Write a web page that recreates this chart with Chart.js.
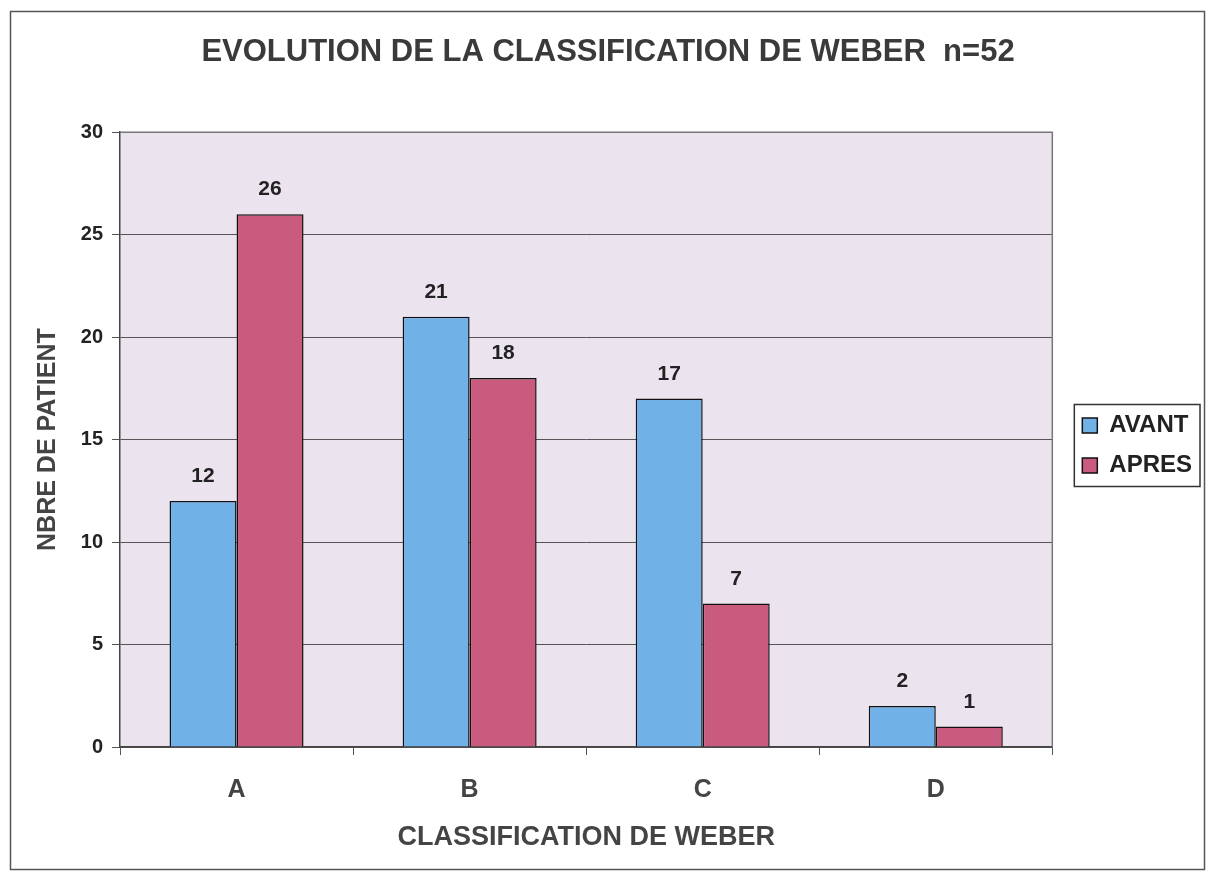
<!DOCTYPE html>
<html>
<head>
<meta charset="utf-8">
<script src="https://cdn.jsdelivr.net/npm/chart.js@4/dist/chart.umd.min.js"></script>
<style>
  html, body { margin: 0; padding: 0; background: #fff; }
  #wrap { width: 1208px; height: 873px; position: relative; }
</style>
</head>
<body>
<div id="wrap"><canvas id="chart"></canvas></div>
<script>
'use strict';

// Data
const categories = ['A', 'B', 'C', 'D'];
const avant = [12, 21, 17, 2];
const apres = [26, 18, 7, 1];
const yTicks = [0, 5, 10, 15, 20, 25, 30];

const FONT = 'Arial, "Liberation Sans", sans-serif';

// frame around whole picture + lavender plot background
const backgroundPlugin = {
  id: 'background',
  beforeDraw(chart) {
    const { ctx, chartArea: a } = chart;
    ctx.save();
    ctx.fillStyle = '#fff';
    ctx.fillRect(0, 0, chart.width, chart.height);
    ctx.strokeStyle = '#555';
    ctx.lineWidth = 1.5;
    ctx.strokeRect(10.5, 11.5, 1194, 858);
    ctx.fillStyle = '#ebe4ef';
    ctx.fillRect(a.left, a.top, a.right - a.left, a.bottom - a.top);
    ctx.restore();
  },
  afterDatasetsDraw(chart) {
    const { ctx, chartArea: a } = chart;
    ctx.save();
    ctx.strokeStyle = '#777';
    ctx.lineWidth = 1.5;
    ctx.beginPath();
    ctx.moveTo(a.left, a.top);
    ctx.lineTo(a.right, a.top);
    ctx.lineTo(a.right, a.bottom);
    ctx.stroke();
    ctx.restore();
  }
};

// value labels above bars
const valueLabels = {
  id: 'valueLabels',
  afterDatasetsDraw(chart) {
    const { ctx } = chart;
    ctx.save();
    ctx.font = 'bold 21px ' + FONT;
    ctx.fillStyle = '#222';
    ctx.textAlign = 'center';
    ctx.textBaseline = 'bottom';
    chart.data.datasets.forEach((ds, i) => {
      chart.getDatasetMeta(i).data.forEach((bar, j) => {
        ctx.fillText(String(ds.data[j]), bar.x, bar.y - 14);
      });
    });
    ctx.restore();
  }
};

// legend sits a bit away from the plot, inside a box
const legendBox = {
  id: 'legendBox',
  afterLayout(chart) {
    const lg = chart.legend;
    if (!lg) return;
    lg.left += 14;
    lg.right += 14;
  },
  afterDraw(chart) {
    const lg = chart.legend;
    if (!lg || !lg.legendHitBoxes.length) return;
    const boxes = lg.legendHitBoxes;
    const left = Math.min(...boxes.map(b => b.left)) - 8;
    const top = Math.min(...boxes.map(b => b.top)) - 9;
    const right = Math.max(...boxes.map(b => b.left + b.width)) + 8;
    const bottom = Math.max(...boxes.map(b => b.top + b.height)) + 9;
    const { ctx } = chart;
    ctx.save();
    ctx.strokeStyle = '#333';
    ctx.lineWidth = 1.5;
    ctx.strokeRect(left, top, right - left, bottom - top);
    ctx.restore();
  }
};

new Chart(document.getElementById('chart'), {
  type: 'bar',
  data: {
    labels: categories,
    datasets: [
      { label: 'AVANT', data: avant, backgroundColor: '#70b1e8', borderColor: '#111', borderWidth: 1.5, borderSkipped: 'bottom' },
      { label: 'APRES', data: apres, backgroundColor: '#c95b7e', borderColor: '#111', borderWidth: 1.5, borderSkipped: 'bottom' }
    ]
  },
  options: {
    responsive: true, maintainAspectRatio: false, animation: false,
    layout: { padding: { left: 28, right: 20, top: 18, bottom: 0 } },
    datasets: { bar: { categoryPercentage: 0.575, barPercentage: 1 } },
    plugins: {
      title: {
        display: true,
        text: 'EVOLUTION DE LA CLASSIFICATION DE WEBER  n=52',
        color: '#3a3a3a',
        font: { family: FONT, size: 31, weight: 'bold' },
        padding: { top: 16, bottom: 61 }
      },
      legend: {
        position: 'right',
        labels: {
          color: '#222',
          font: { family: FONT, size: 24, weight: 'bold' },
          boxWidth: 15, boxHeight: 15, padding: 16
        }
      },
      tooltip: { enabled: false }
    },
    scales: {
      x: {
        grid: { drawOnChartArea: false, color: '#555', tickLength: 8 },
        border: { color: '#444', width: 1.5 },
        ticks: { color: '#444', font: { family: FONT, size: 25, weight: 'bold' }, padding: 20 },
        title: {
          display: true, text: 'CLASSIFICATION DE WEBER', color: '#444',
          font: { family: FONT, size: 27, weight: 'bold' },
          padding: { top: 2, bottom: 19 }
        },
        afterFit(s) { s.height = 126; }
      },
      y: {
        min: 0, max: 30,
        afterBuildTicks(s) { s.ticks = yTicks.map(v => ({ value: v })); },
        grid: { color: '#555', lineWidth: 1, tickLength: 8 },
        border: { color: '#444', width: 1.5 },
        ticks: { color: '#222', font: { family: FONT, size: 20, weight: 'bold' }, padding: 9 },
        title: {
          display: true, text: 'NBRE DE PATIENT', color: '#444',
          font: { family: FONT, size: 25, weight: 'bold' },
          padding: { top: 5, bottom: 0 }
        },
        afterFit(s) { s.width = 92; }
      }
    }
  },
  plugins: [backgroundPlugin, valueLabels, legendBox]
});
</script>
</body>
</html>
